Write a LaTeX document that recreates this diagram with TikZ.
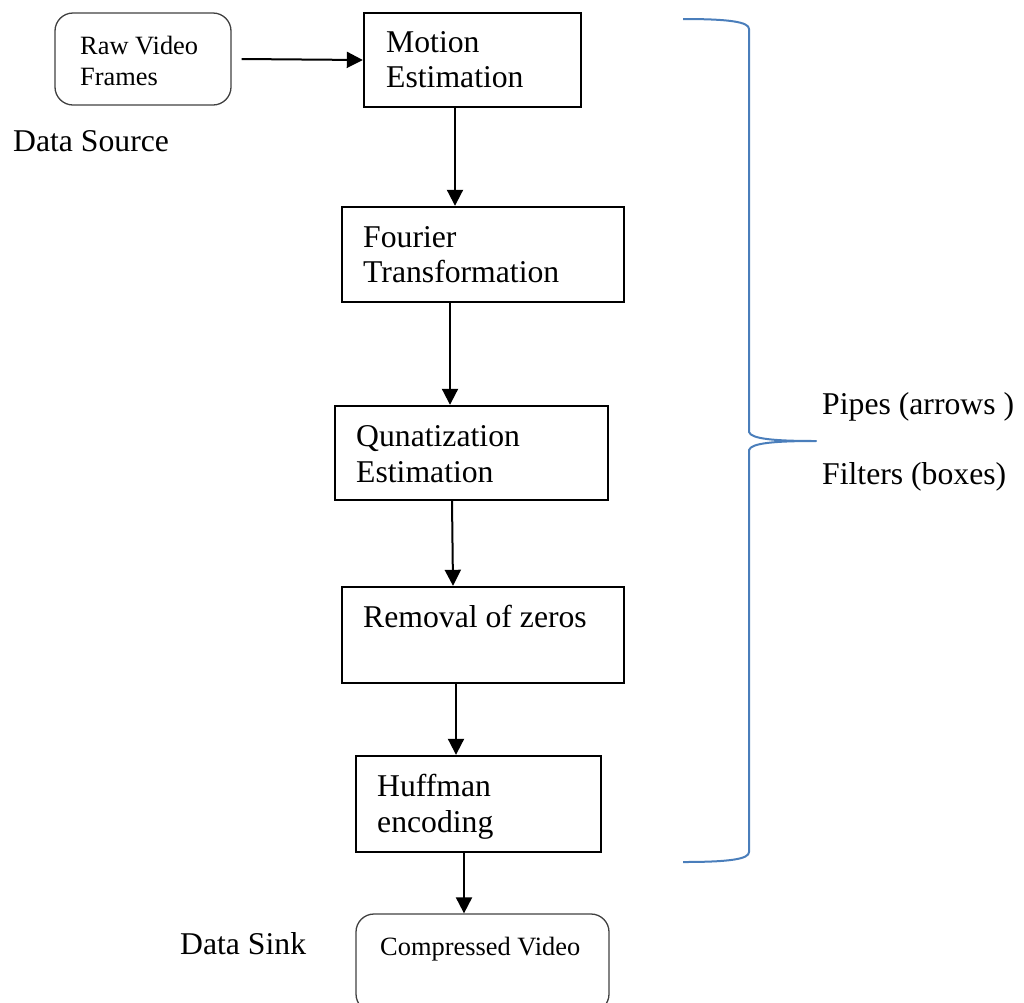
\documentclass[tikz,border=0pt]{standalone}
\usepackage{fontspec}
\setmainfont{Liberation Serif}
\usetikzlibrary{arrows.meta}
\definecolor{braceblue}{HTML}{4A7EBB}
\begin{document}
\begin{tikzpicture}[x=1pt,y=-1pt,
  filterbox/.style={draw=black,line width=2.4pt,minimum width=#1,inner sep=0pt},
  roundbox/.style={draw=black!75,line width=1.3pt,rounded corners=18pt,inner sep=0pt},
  big/.style={inner sep=0pt,anchor=base west,font=\fontsize{31.7}{36.5}\selectfont},
  small/.style={inner sep=0pt,anchor=base west,font=\fontsize{26.4}{31}\selectfont},
  arr/.style={line width=2pt,-{Triangle[length=16pt,width=16pt]}},
  bracestyle/.style={draw=braceblue,line width=2pt}]
\useasboundingbox (0,0) rectangle (1024,1002);

% boxes
\node[roundbox,minimum width=176pt,minimum height=92pt] (raw) at (143,59) {};
\node[filterbox=217pt,minimum height=94pt] (motion) at (472.5,60) {};
\node[filterbox=282pt,minimum height=95pt] (fourier) at (483,254.5) {};
\node[filterbox=273pt,minimum height=94pt] (quant) at (471.5,453) {};
\node[filterbox=282pt,minimum height=96pt] (removal) at (483,635) {};
\node[filterbox=245pt,minimum height=96pt] (huffman) at (478.5,804) {};
\node[roundbox,minimum width=253pt,minimum height=98pt] (comp) at (482.5,963) {};

% texts
\node[small] (t1a) at (80,54) {Raw Video};
\node[small] (t1b) at (80,85) {Frames};
\node[big] (t2a) at (386,52) {Motion};
\node[big] (t2b) at (386,87) {Estimation};
\node[big] (t3a) at (363,247) {Fourier};
\node[big] (t3b) at (363,282) {Transformation};
\node[big] (t4a) at (356,446) {Qunatization};
\node[big] (t4b) at (356,482) {Estimation};
\node[big] (t5) at (363,627) {Removal of zeros};
\node[big] (t6a) at (377,796) {Huffman};
\node[big] (t6b) at (377,832) {encoding};
\node[small] (t7) at (380,955) {Compressed Video};
\node[big] (src) at (13,151) {Data Source};
\node[big] (sink) at (180,954) {Data Sink};
\node[big] (pipes) at (822,414) {Pipes (arrows )};
\node[big] (filters) at (822,484) {Filters (boxes)};

% connectors
\draw[arr] ([xshift=10pt]raw.east) -- (motion.west);
\draw[arr] ([xshift=-17.5pt]motion.south) -- ([xshift=-28pt]fourier.north);
\draw[arr] ([xshift=-33pt]fourier.south) -- ([xshift=-21.5pt]quant.north);
\draw[arr] ([xshift=-19.5pt]quant.south) -- ([xshift=-30pt]removal.north);
\draw[arr] ([xshift=-27pt]removal.south) -- ([xshift=-22.5pt]huffman.north);
\draw[arr] ([xshift=-14.5pt]huffman.south) -- ([xshift=-18.5pt]comp.north);

% brace
\coordinate (btop) at (683,19);
\coordinate (btip) at (816,441);
\coordinate (bbot) at (683,862);
\draw[bracestyle,line join=round] (btop) .. controls (730,19) and (749,22) .. (749,29)
  -- (749,432) .. controls (751,439) and (775,441) .. (btip)
  .. controls (775,441) and (751,443) .. (749,450)
  -- (749,852) .. controls (749,859) and (730,862) .. (bbot);
\end{tikzpicture}
\end{document}
